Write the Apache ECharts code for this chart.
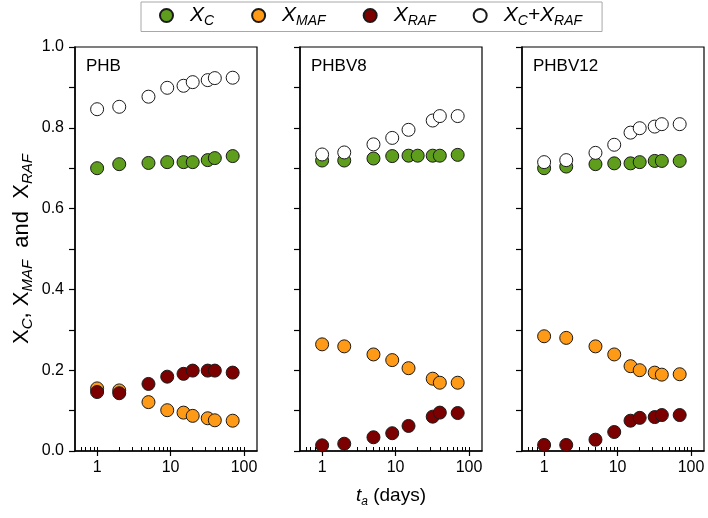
<!DOCTYPE html>
<html>
<head>
<meta charset="utf-8">
<script src="https://cdn.jsdelivr.net/npm/echarts@6/dist/echarts.min.js"></script>
<style>
  html, body { margin: 0; padding: 0; background: #fff; }
  #main { width: 708px; height: 518px; }
</style>
</head>
<body>
<div id="main"></div>
<script>
const times = [1, 2, 5, 9, 15, 20, 32, 40, 70];
const panelNames = ['PHB', 'PHBV8', 'PHBV12'];
const seriesNames = ['XC', 'XMAF', 'XRAF', 'XC+XRAF'];
const xTickLabels = [1, 10, 100];
const xMinorTicks = [0.6, 0.7, 0.8, 0.9, 1, 2, 3, 4, 5, 6, 7, 8, 9, 10, 20, 30, 40, 50, 60, 70, 80, 90, 100];

// PHB
const phbXC = [0.700, 0.710, 0.713, 0.715, 0.715, 0.715, 0.720, 0.725, 0.730];
const phbXMAF = [0.155, 0.150, 0.121, 0.101, 0.095, 0.087, 0.081, 0.076, 0.075];
const phbXRAF = [0.146, 0.143, 0.166, 0.184, 0.191, 0.199, 0.199, 0.199, 0.194];
const phbSum = [0.846, 0.852, 0.877, 0.899, 0.904, 0.913, 0.918, 0.923, 0.924];
// PHBV8
const v8XC = [0.719, 0.719, 0.724, 0.730, 0.731, 0.731, 0.731, 0.731, 0.733];
const v8XMAF = [0.264, 0.259, 0.239, 0.225, 0.205, null, 0.179, 0.169, 0.169];
const v8XRAF = [0.014, 0.018, 0.034, 0.044, 0.062, null, 0.085, 0.095, 0.094];
const v8Sum = [0.734, 0.739, 0.759, 0.775, 0.795, null, 0.818, 0.829, 0.829];
// PHBV12
const v12XC = [0.700, 0.704, 0.710, 0.712, 0.712, 0.715, 0.718, 0.718, 0.718];
const v12XMAF = [0.284, 0.280, 0.259, 0.239, 0.210, 0.200, 0.194, 0.189, 0.190];
const v12XRAF = [0.015, 0.015, 0.028, 0.047, 0.075, 0.082, 0.084, 0.089, 0.089];
const v12Sum = [0.715, 0.720, 0.738, 0.758, 0.788, 0.799, 0.803, 0.809, 0.809];

const panelData = [
  [phbXC, phbXMAF, phbXRAF, phbSum],
  [v8XC, v8XMAF, v8XRAF, v8Sum],
  [v12XC, v12XMAF, v12XRAF, v12Sum]
];

const colors = ['#5f9e1d', '#ff9a17', '#7c0000', '#ffffff'];
const font = 'Liberation Sans, Arial, sans-serif';

const chartDom = document.getElementById('main');
const myChart = echarts.init(chartDom, null, { renderer: 'canvas' });

const gridLefts = [75, 300, 522];
const gridWidth = 182;

const rich = {
  r: { fontSize: 19, fontFamily: font, color: '#000', lineHeight: 24 },
  i: { fontSize: 19, fontFamily: font, fontStyle: 'italic', color: '#000', lineHeight: 24 },
  s: { fontSize: 12, fontFamily: font, fontStyle: 'italic', color: '#000', verticalAlign: 'bottom', lineHeight: 9 }
};
const yRich = {
  r: { fontSize: 22, fontFamily: font, color: '#000', lineHeight: 26 },
  s: { fontSize: 15, fontFamily: font, fontStyle: 'italic', color: '#000', verticalAlign: 'bottom', lineHeight: 10 }
};
const legendRich = {
  i: { fontSize: 21, fontFamily: font, fontStyle: 'italic', color: '#000', lineHeight: 26 },
  s: { fontSize: 14, fontFamily: font, fontStyle: 'italic', color: '#000', verticalAlign: 'bottom', lineHeight: 10 }
};
const legendText = {
  'XC': '{i|X}{s|C}',
  'XMAF': '{i|X}{s|MAF}',
  'XRAF': '{i|X}{s|RAF}',
  'XC+XRAF': '{i|X}{s|C}{i|+X}{s|RAF}'
};

let grids = [], xAxes = [], yAxes = [], titles = [], series = [];
gridLefts.forEach((left, p) => {
  grids.push({
    left: left, width: gridWidth, top: 47, bottom: 67,
    show: true, borderColor: '#000', borderWidth: 1.2
  });
  xAxes.push({
    type: 'log', gridIndex: p, min: 0.5, max: 150, position: 'bottom',
    axisLine: { lineStyle: { color: '#000', width: 1.5 } },
    axisTick: { show: true, inside: false, length: 5, customValues: xTickLabels, lineStyle: { color: '#000', width: 1.2 } },
    axisLabel: { customValues: xTickLabels, fontSize: 16, fontFamily: font, color: '#000', margin: 9 },
    splitLine: { show: false },
    name: p === 1 ? '{i|t}{s|a}{r| (days)}' : '',
    nameLocation: 'middle', nameGap: 33,
    nameTextStyle: { rich: rich }
  });
  xAxes.push({
    type: 'log', gridIndex: p, min: 0.5, max: 150, position: 'bottom',
    axisLine: { show: false },
    axisTick: { show: true, inside: true, length: 4, customValues: xMinorTicks, lineStyle: { color: '#000', width: 1 } },
    axisLabel: { show: false },
    splitLine: { show: false }
  });
  yAxes.push({
    type: 'value', gridIndex: p, min: 0, max: 1, interval: 0.2,
    axisLine: { show: true, lineStyle: { color: '#000', width: 1.5 } },
    axisTick: { show: true, length: 6, lineStyle: { color: '#000', width: 1.2 } },
    minorTick: { show: true, splitNumber: 2, length: 6, lineStyle: { color: '#000', width: 1.2 } },
    axisLabel: { show: p === 0, fontSize: 16, fontFamily: font, color: '#000', margin: 11, formatter: (v) => v.toFixed(1) },
    splitLine: { show: false },
    name: p === 0 ? '{r|X}{s|C}{r|, X}{s|MAF}{r|  and  X}{s|RAF}' : '',
    nameLocation: 'middle', nameRotate: 90, nameGap: 40,
    nameTextStyle: { rich: yRich }
  });
  titles.push({
    text: panelNames[p], left: left + 11, top: 58, padding: 0,
    textStyle: { fontSize: 17, fontWeight: 'normal', fontFamily: font, color: '#000' }
  });
  seriesNames.forEach((name, k) => {
    series.push({
      type: 'scatter', name: name,
      xAxisIndex: p * 2, yAxisIndex: p,
      symbol: 'circle', symbolSize: 13,
      itemStyle: { color: colors[k], borderColor: '#1a1a1a', borderWidth: 1, opacity: 1 },
      data: times.map((t, j) => [t, panelData[p][k][j]]).filter((d) => d[1] != null),
      z: 2 + k
    });
  });
});

const option = {
  animation: false,
  backgroundColor: '#fff',
  title: titles,
  legend: {
    data: seriesNames,
    left: 141, top: 2,
    padding: [3, 20, 3, 18],
    itemGap: 37,
    itemWidth: 13, itemHeight: 13,
    icon: 'circle',
    borderColor: '#a8a8a8', borderWidth: 1,
    backgroundColor: '#fff',
    formatter: (name) => legendText[name],
    textStyle: { rich: legendRich, padding: [0, 0, 0, 12] }
  },
  grid: grids,
  xAxis: xAxes,
  yAxis: yAxes,
  series: series
};

myChart.setOption(option);
</script>
</body>
</html>
